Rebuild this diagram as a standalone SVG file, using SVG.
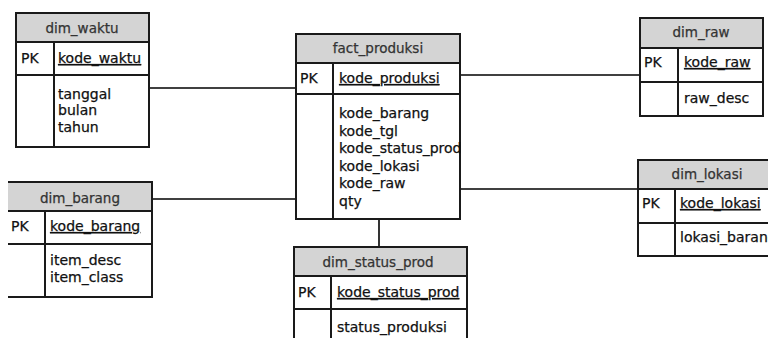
<svg xmlns="http://www.w3.org/2000/svg" width="768" height="338" viewBox="0 0 768 338">
  <style>
    .box { fill: #ffffff; stroke: #1a1a1a; stroke-width: 2; }
    .hdr { fill: #d4d4d4; stroke: #1a1a1a; stroke-width: 2; }
    .sep { stroke: #1a1a1a; stroke-width: 2; fill: none; }
    .conn { stroke: #000000; stroke-width: 1.6; fill: none; }
    text { font-family: "DejaVu Sans", Verdana, sans-serif; font-size: 14px; fill: #111111; stroke: #111111; stroke-width: 0.25; }
    .title { fill: #333333; stroke: #333333; text-anchor: middle; font-size: 13.5px; }
    .pk { text-decoration: underline; }
  </style>

  <!-- relationship lines -->
  <g id="connectors">
    <line class="conn" x1="149" y1="88" x2="296" y2="88"/>
    <line class="conn" x1="152" y1="199" x2="296" y2="199"/>
    <line class="conn" x1="460" y1="75" x2="640" y2="75"/>
    <line class="conn" x1="460" y1="189" x2="638" y2="189"/>
    <line class="conn" x1="379" y1="219" x2="379" y2="247"/>
  </g>

  <!-- dim_waktu -->
  <g id="dim_waktu">
    <rect class="box" x="16" y="13" width="133" height="134"/>
    <rect class="hdr" x="16" y="13" width="133" height="29"/>
    <line class="sep" x1="16" y1="75" x2="149" y2="75"/>
    <line class="sep" x1="54" y1="42" x2="54" y2="147"/>
    <text class="title" x="82" y="33">dim_waktu</text>
    <text x="21" y="63">PK</text>
    <text class="pk" x="58" y="63">kode_waktu</text>
    <text x="58" y="99">tanggal</text>
    <text x="58" y="115">bulan</text>
    <text x="58" y="132">tahun</text>
  </g>

  <!-- fact_produksi -->
  <g id="fact_produksi">
    <rect class="box" x="296" y="34" width="164" height="185"/>
    <rect class="hdr" x="296" y="34" width="164" height="29"/>
    <line class="sep" x1="296" y1="94" x2="460" y2="94"/>
    <line class="sep" x1="333" y1="63" x2="333" y2="219"/>
    <text class="title" x="378" y="53">fact_produksi</text>
    <text x="300" y="83">PK</text>
    <text class="pk" x="339" y="83">kode_produksi</text>
    <text x="339" y="118">kode_barang</text>
    <text x="339" y="135.6">kode_tgl</text>
    <text x="339" y="153.2">kode_status_prod</text>
    <text x="339" y="170.8">kode_lokasi</text>
    <text x="339" y="188.4">kode_raw</text>
    <text x="339" y="206">qty</text>
  </g>

  <!-- dim_raw -->
  <g id="dim_raw">
    <rect class="box" x="640" y="18" width="123" height="98"/>
    <rect class="hdr" x="640" y="18" width="123" height="30"/>
    <line class="sep" x1="640" y1="82" x2="763" y2="82"/>
    <line class="sep" x1="678" y1="48" x2="678" y2="116"/>
    <text class="title" x="701" y="37">dim_raw</text>
    <text x="644" y="67">PK</text>
    <text class="pk" x="684" y="67">kode_raw</text>
    <text x="684" y="103">raw_desc</text>
  </g>

  <!-- dim_lokasi -->
  <g id="dim_lokasi">
    <rect class="box" x="638" y="160" width="140" height="96"/>
    <rect class="hdr" x="638" y="160" width="140" height="29"/>
    <line class="sep" x1="638" y1="223" x2="778" y2="223"/>
    <line class="sep" x1="675" y1="189" x2="675" y2="256"/>
    <text class="title" x="707" y="179">dim_lokasi</text>
    <text x="642" y="208">PK</text>
    <text class="pk" x="680" y="208">kode_lokasi</text>
    <text x="680" y="242">lokasi_barang</text>
  </g>

  <!-- dim_barang (left side runs off the page) -->
  <g id="dim_barang">
    <rect x="8" y="182" width="144" height="29" fill="#d4d4d4"/>
    <path class="sep" d="M8 182 H152 V297 H8 M8 211 H152 M8 244 H152 M45 211 V297"/>
    <text class="title" x="80" y="203">dim_barang</text>
    <text x="11" y="231">PK</text>
    <text class="pk" x="50" y="231">kode_barang</text>
    <text x="50" y="265">item_desc</text>
    <text x="50" y="282">item_class</text>
  </g>

  <!-- dim_status_prod (bottom runs off the page) -->
  <g id="dim_status_prod">
    <rect class="box" x="294" y="247" width="173" height="110"/>
    <rect class="hdr" x="294" y="247" width="173" height="29"/>
    <line class="sep" x1="294" y1="309" x2="467" y2="309"/>
    <line class="sep" x1="331" y1="276" x2="331" y2="357"/>
    <text class="title" x="378" y="267">dim_status_prod</text>
    <text x="298" y="297">PK</text>
    <text class="pk" x="337" y="297">kode_status_prod</text>
    <text x="337" y="332">status_produksi</text>
  </g>
</svg>
